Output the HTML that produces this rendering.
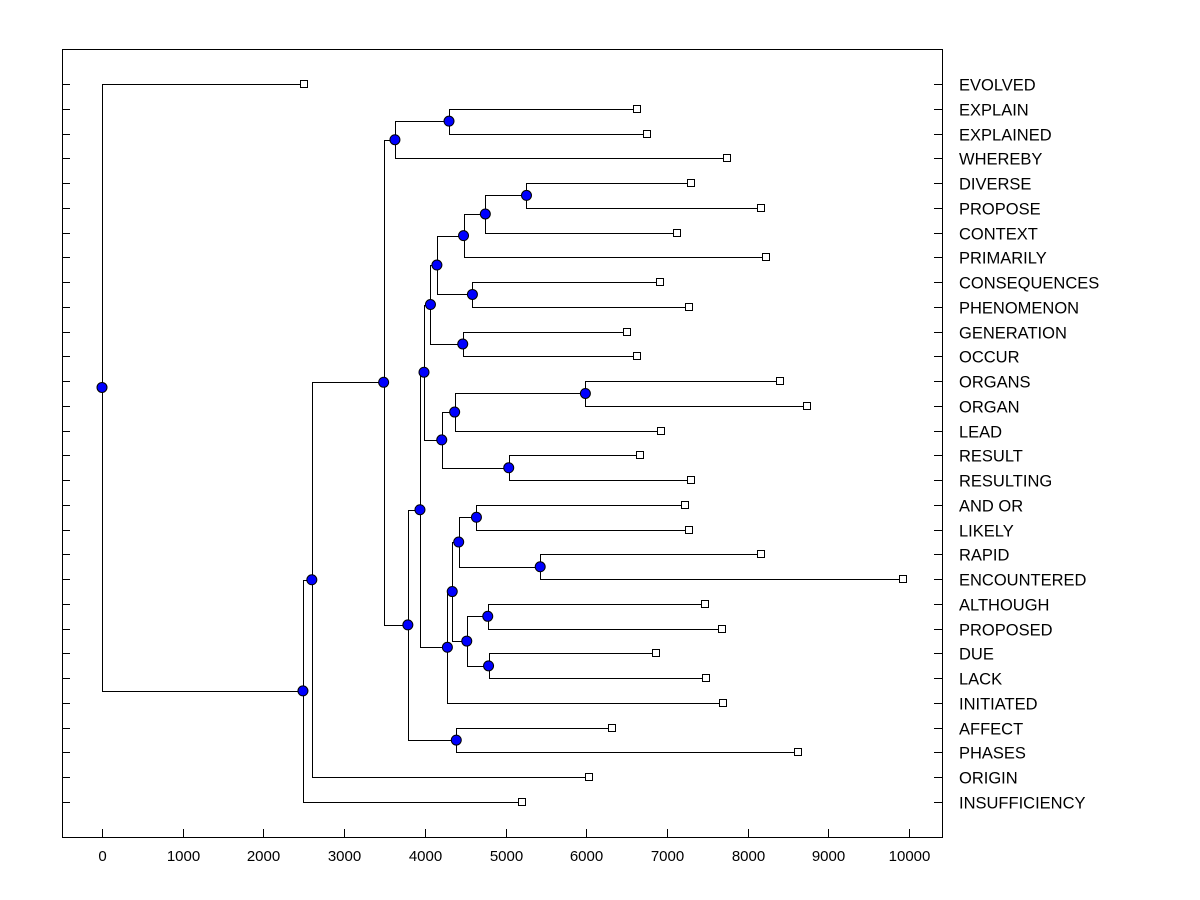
<!DOCTYPE html>
<html><head><meta charset="utf-8"><style>
body{margin:0;background:#fff;}
svg{display:block;font-family:"Liberation Sans",Arial,sans-serif;}
</style></head><body>
<svg id="chart" width="1200" height="900"></svg>
<script>
const labels=["EVOLVED","EXPLAIN","EXPLAINED","WHEREBY","DIVERSE","PROPOSE","CONTEXT","PRIMARILY","CONSEQUENCES","PHENOMENON","GENERATION","OCCUR","ORGANS","ORGAN","LEAD","RESULT","RESULTING","AND OR","LIKELY","RAPID","ENCOUNTERED","ALTHOUGH","PROPOSED","DUE","LACK","INITIATED","AFFECT","PHASES","ORIGIN","INSUFFICIENCY"];
const leafValues=[2500,6630,6750,7750,7300,8160,7130,8230,6920,7270,6500,6630,8400,8730,6930,6670,7300,7230,7270,8160,9920,7470,7680,6870,7480,7700,6320,8620,6030,5200];
// merges: leaves "L<i>", earlier merges "N<k>"
const mergeA=["L1","N0","L4","N2","N3","L8","N4","L10","N6","L12","N9","L15","N10","N8","L17","L19","N14","L21","L23","N17","N16","N20","N13","L26","N22","N1","N25","N26","L0"];
const mergeB=["L2","L3","L5","L6","L7","L9","N5","L11","N7","L13","L14","L16","N11","N12","L18","L20","N15","L22","L24","N18","N19","L25","N21","L27","N23","N24","L28","L29","N27"];
const mergeH=[4300,3630,5260,4750,4480,4590,4150,4470,4070,5990,4370,5040,4210,3990,4640,5430,4420,4780,4790,4520,4340,4280,3940,4390,3790,3490,2600,2490,0];
const xTicks=[0,1000,2000,3000,4000,5000,6000,7000,8000,9000,10000];
</script>
<script>
const svg=document.getElementById('chart');
const NS='http://www.w3.org/2000/svg';
const X0=62,X1=942,Y0=49,Y1=837;
const xs=v=>102+v*(909-102)/10000;
const ys=i=>84+i*(802-84)/29;
function mk(t,a,p){const e=document.createElementNS(NS,t);for(const k in a)e.setAttribute(k,a[k]);(p||svg).appendChild(e);return e;}
const frame=mk('rect',{x:X0+.5,y:Y0+.5,width:X1-X0,height:Y1-Y0,fill:'none',stroke:'#000','stroke-width':1});


xTicks.forEach(v=>{
  const x=Math.round(xs(v))+.5;
  const t=mk('line',{x1:x,x2:x,y1:Y1,y2:Y1-8,stroke:'#000'});
  
  
  const l=mk('text',{x:x,y:861,'font-size':15,'text-anchor':'middle'});l.textContent=v;
  
  
});
labels.forEach((s,i)=>{
  const y=Math.round(ys(i))+.5;
  const a=mk('line',{x1:X0,x2:X0+8,y1:y,y2:y,stroke:'#000'});
  
  
  const b=mk('line',{x1:X1-8,x2:X1,y1:y,y2:y,stroke:'#000'});
  
  
  const t=mk('text',{x:959,y:y+6,'font-size':16.5});t.textContent=s;
  
  
});
const nodes=[];
function pos(id){
  if(id[0]==='L'){const i=parseInt(id.slice(1));return {x:xs(leafValues[i]),y:ys(i)};}
  return nodes[parseInt(id.slice(1))];
}
const lines=mk('g',{});


for(let k=0;k<mergeH.length;k++){
  const a=pos(mergeA[k]),b=pos(mergeB[k]);
  const x=xs(mergeH[k]);
  const xr=Math.round(x)+.5;
  const p=`M${a.x},${Math.round(a.y)+.5}H${xr}V${Math.round(b.y)+.5}H${b.x}`;
  const e=mk('path',{d:p,fill:'none',stroke:'#000','stroke-width':1},lines);
  
  
  nodes.push({x:x,y:(a.y+b.y)/2});
}
labels.forEach((s,i)=>{
  const e=mk('rect',{x:Math.round(xs(leafValues[i]))-3.5,y:Math.round(ys(i))-3.5,width:7,height:7,fill:'#fff',stroke:'#000'});
  
  
});
nodes.forEach(n=>{
  const c=mk('circle',{cx:n.x,cy:n.y,r:5,fill:'#0000ff',stroke:'#000'});
  
  
});
</script>
</body></html>
